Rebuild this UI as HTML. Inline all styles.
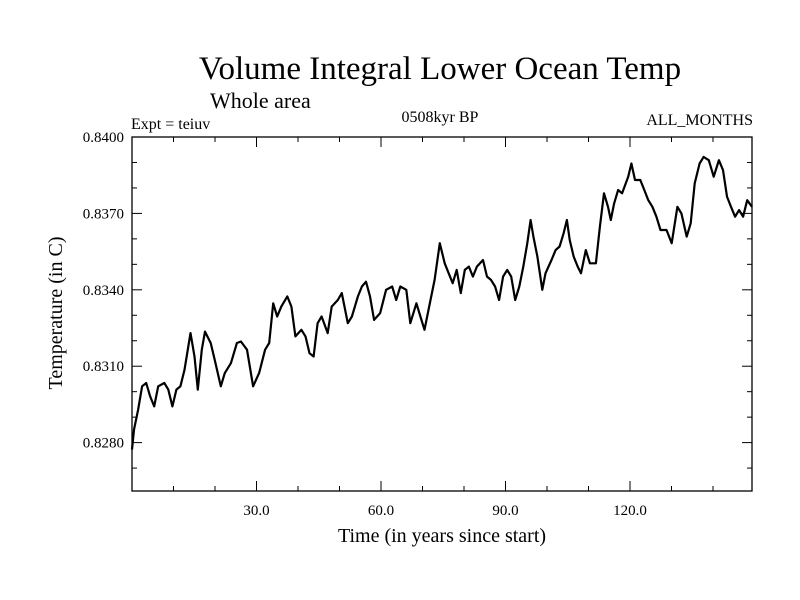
<!DOCTYPE html>
<html><head><meta charset="utf-8"><style>
html,body{margin:0;padding:0;background:#fff;}
svg{display:block;font-family:"Liberation Serif",serif;}
</style></head><body>
<svg id="chart" width="800" height="600" xmlns="http://www.w3.org/2000/svg">
<text x="440" y="79" font-size="33" text-anchor="middle">Volume Integral Lower Ocean Temp</text>
<text x="210" y="108" font-size="22">Whole area</text>
<text x="131" y="129" font-size="16">Expt = teiuv</text>
<text x="440" y="122" font-size="16" text-anchor="middle">0508kyr BP</text>
<text x="753" y="125" font-size="16" text-anchor="end">ALL_MONTHS</text>
<text x="442" y="542" font-size="20" text-anchor="middle">Time (in years since start)</text>
<text transform="translate(62,313) rotate(-90)" font-size="20" text-anchor="middle">Temperature (in C)</text>
<g id="axes"></g>
<g id="series"></g>
</svg>
<script>
const years=[0,0.49,1.46,2.44,3.41,4.38,5.35,6.32,7.78,8.75,9.73,10.70,11.67,12.64,14.10,15.07,15.85,16.82,17.60,18.96,19.93,21.39,22.36,23.82,25.28,26.25,27.71,29.17,30.62,32.08,33.05,34.03,35.00,35.97,37.43,38.40,39.37,40.83,41.80,42.77,43.75,44.72,45.69,47.15,48.12,49.58,50.55,52.01,52.98,54.44,55.41,56.38,57.35,58.33,59.78,61.24,62.70,63.67,64.64,66.10,67.07,68.53,69.50,70.48,71.45,72.91,74.17,75.34,76.31,77.28,78.25,79.22,80.20,81.17,82.14,83.11,84.57,85.54,86.51,87.49,88.46,89.43,90.40,91.37,92.35,93.32,94.29,95.26,96.04,96.72,97.69,98.86,99.64,101.09,102.07,103.04,104.01,104.79,105.47,106.44,107.41,108.19,109.36,110.33,111.79,112.76,113.73,114.70,115.38,116.16,117.13,118.10,119.56,120.34,121.21,122.48,123.45,124.42,125.39,126.37,127.34,128.80,130.06,131.42,132.39,133.66,134.63,135.60,136.77,137.74,139.00,140.17,141.43,142.40,143.38,144.35,145.32,146.29,147.26,148.24,149.4];
const temps=[0.82773,0.82851,0.82929,0.83021,0.83034,0.82981,0.82942,0.83021,0.83034,0.83008,0.82942,0.83008,0.83021,0.83086,0.83230,0.83138,0.83008,0.83165,0.83236,0.83191,0.83125,0.83021,0.83073,0.83112,0.83191,0.83197,0.83165,0.83021,0.83073,0.83165,0.83191,0.83347,0.83295,0.83334,0.83374,0.83334,0.83217,0.83243,0.83217,0.83151,0.83138,0.83269,0.83295,0.83230,0.83334,0.83360,0.83387,0.83269,0.83295,0.83374,0.83413,0.83432,0.83374,0.83282,0.83308,0.83400,0.83413,0.83360,0.83413,0.83400,0.83269,0.83347,0.83295,0.83243,0.83321,0.83439,0.83583,0.83504,0.83465,0.83426,0.83478,0.83387,0.83478,0.83491,0.83452,0.83491,0.83517,0.83452,0.83439,0.83413,0.83360,0.83452,0.83478,0.83452,0.83360,0.83413,0.83491,0.83583,0.83674,0.83609,0.83530,0.83400,0.83465,0.83517,0.83556,0.83570,0.83622,0.83674,0.83596,0.83530,0.83491,0.83465,0.83556,0.83504,0.83504,0.83648,0.83779,0.83726,0.83674,0.83739,0.83792,0.83779,0.83844,0.83896,0.83831,0.83831,0.83792,0.83752,0.83726,0.83687,0.83635,0.83635,0.83583,0.83726,0.83700,0.83609,0.83661,0.83818,0.83896,0.83922,0.83909,0.83844,0.83909,0.83870,0.83766,0.83726,0.83687,0.83713,0.83687,0.83752,0.83726,0.83700];
const xTicks=[30,60,90,120];
const xTickLabels=["30.0","60.0","90.0","120.0"];
const yTicks=[0.828,0.831,0.834,0.837,0.840];
const yTickLabels=["0.8280","0.8310","0.8340","0.8370","0.8400"];
const L=132,R=752,T=137,B=491,X0=0,X1=149.4,Y0=0.8261,Y1=0.8400;
const sx=v=>L+(v-X0)/(X1-X0)*(R-L);
const sy=v=>B-(v-Y0)/(Y1-Y0)*(B-T);
const NS="http://www.w3.org/2000/svg";
const ax=document.getElementById('axes'),se=document.getElementById('series');
function mk(tag,at,parent){const e=document.createElementNS(NS,tag);for(const k in at)e.setAttribute(k,at[k]);parent.appendChild(e);return e;}
const frame=mk('rect',{x:L,y:T,width:R-L,height:B-T,fill:'none',stroke:'#000','stroke-width':1.3},ax);


for(let v=10;v<X1;v+=10){const maj=v%30===0;const len=maj?10:5;
 const t1=mk('line',{x1:sx(v),x2:sx(v),y1:B,y2:B-len,stroke:'#000','stroke-width':1},ax);
 
 
 const t2=mk('line',{x1:sx(v),x2:sx(v),y1:T,y2:T+len,stroke:'#000','stroke-width':1},ax);
 
 }
xTicks.forEach((v,i)=>{const t=mk('text',{x:sx(v),y:B+24,'font-size':15,'text-anchor':'middle'},ax);t.textContent=xTickLabels[i];
 
 });
for(let k=0;k<=13;k++){const v=0.827+k*0.001;if(v<Y0||v>Y1+1e-9)continue;const maj=yTicks.some(y=>Math.abs(y-v)<1e-7);const len=maj?10:5;
 const t1=mk('line',{x1:L,x2:L+len,y1:sy(v),y2:sy(v),stroke:'#000','stroke-width':1},ax);
 
 
 const t2=mk('line',{x1:R,x2:R-len,y1:sy(v),y2:sy(v),stroke:'#000','stroke-width':1},ax);
 
 }
yTicks.forEach((v,i)=>{const t=mk('text',{x:L-8,y:sy(v)+5,'font-size':15,'text-anchor':'end'},ax);t.textContent=yTickLabels[i];
 
 });
const d=years.map((y,i)=>(i?'L':'M')+sx(y).toFixed(1)+','+sy(temps[i]).toFixed(1)).join('');
const p=mk('path',{d:d,fill:'none',stroke:'#000','stroke-width':2.2,'stroke-linejoin':'round'},se);


</script>
</body></html>
